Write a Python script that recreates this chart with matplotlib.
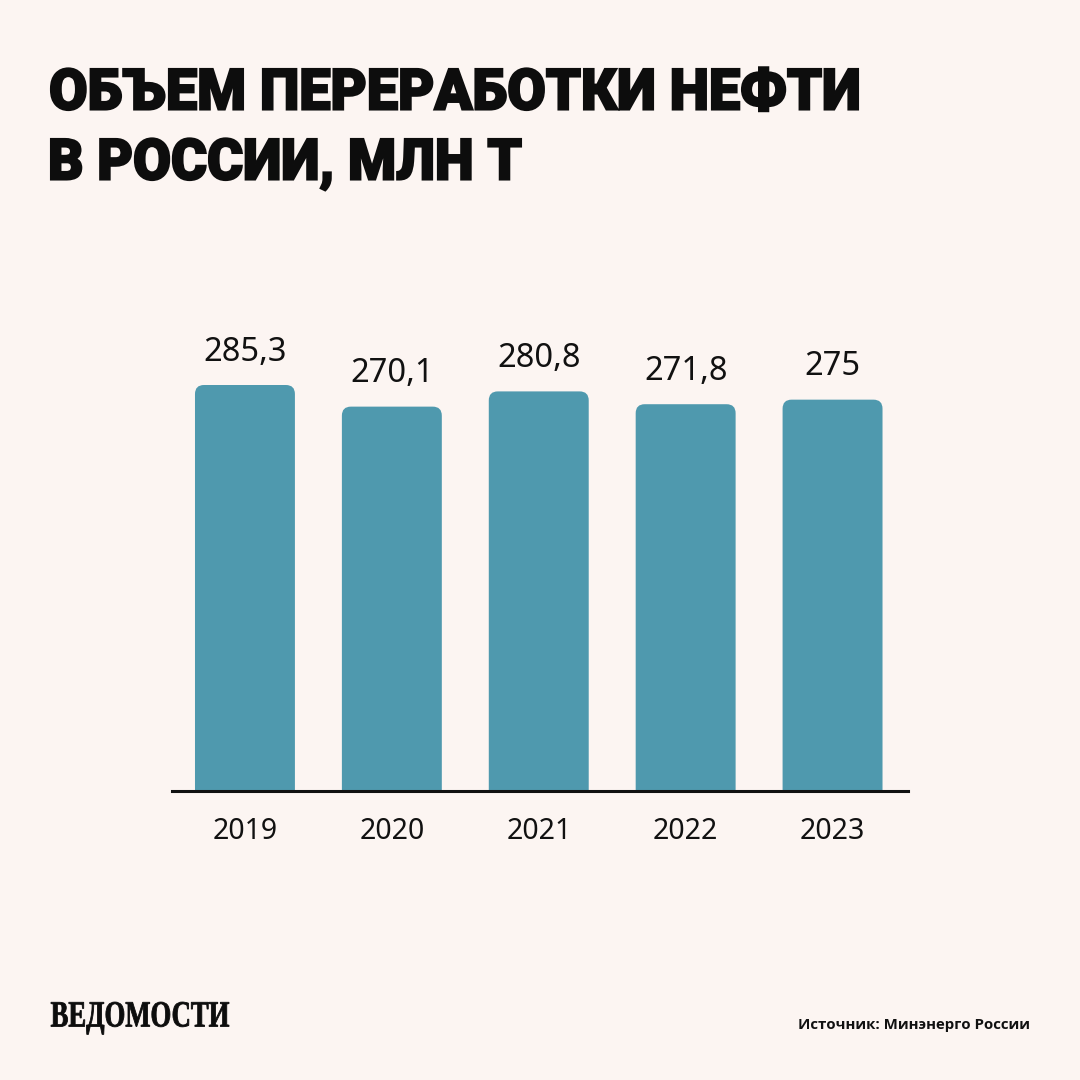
import numpy as np
import matplotlib.pyplot as plt
from matplotlib.patches import FancyBboxPatch, PathPatch
from matplotlib.textpath import TextPath
from matplotlib.font_manager import FontProperties
from matplotlib.transforms import Affine2D

# --- données ---
years = ["2019", "2020", "2021", "2022", "2023"]
values = [285.3, 270.1, 280.8, 271.8, 275.0]
value_labels = ["285,3", "270,1", "280,8", "271,8", "275"]

BG = "#fcf5f2"
BAR = "#4f99ae"
W, H = 1080, 1080
DPI = 100

fig = plt.figure(figsize=(W / DPI, H / DPI), dpi=DPI, facecolor=BG)


def squeezed_text(s, x0, y_base, size, width, family, weight, stroke=0.0):
    """texte compressé horizontalement (pixels, origine en haut)"""
    fp = FontProperties(family=family, weight=weight)
    tp = TextPath((0, 0), s, size=size, prop=fp)
    ext = tp.get_extents()
    tr = Affine2D().translate(-ext.x0, 0).scale(width / ext.width, 1.0)
    tr = tr.translate(x0, H - y_base)
    fig.patches.append(PathPatch(tr.transform_path(tp), facecolor="#0d0d0d",
                                 edgecolor="#0d0d0d" if stroke else "none",
                                 linewidth=stroke, joinstyle="miter",
                                 transform=None))


# axes placed in pixel terms
ax_l, ax_r, ax_b, ax_t = 172, 908, 791, 300
ax = fig.add_axes([ax_l / W, 1 - ax_b / H, (ax_r - ax_l) / W, (ax_b - ax_t) / H])
ax.set_facecolor(BG)

x = np.arange(len(years))
step_px = 147.0
bw = 100 / step_px
ax.set_xlim(-(245 - ax_l) / step_px, len(years) - 1 + (ax_r - 832.5) / step_px)
ymax = (ax_b - ax_t) / (406 / 285.3)
ax.set_ylim(0, ymax)

# rounded tops (bottom corners hidden below the axis)
px_x = step_px
px_y = (ax_b - ax_t) / ymax
r_px = 9
below = 20 / px_y
for xi, v in zip(x, values):
    p = FancyBboxPatch((xi - bw / 2, -below), bw, v + below,
                       boxstyle=f"round,pad=0,rounding_size={r_px / px_x}",
                       mutation_aspect=px_x / px_y,
                       facecolor=BAR, edgecolor="none", zorder=2)
    ax.add_patch(p)

for xi, v, lab in zip(x, values, value_labels):
    ax.annotate(lab, (xi, v), xytext=(0, 17.5), textcoords="offset points",
                ha="center", va="baseline", fontsize=23.5,
                family="Noto Sans", color="#111111")

for s in ["top", "right", "left"]:
    ax.spines[s].set_visible(False)
ax.spines["bottom"].set_linewidth(2.2)
ax.spines["bottom"].set_color("#111111")
ax.spines["bottom"].set_zorder(3)
ax.set_yticks([])
ax.set_xticks(x)
ax.set_xticklabels(years, fontsize=20.5, family="Noto Sans", color="#111111")
ax.tick_params(axis="x", length=0, pad=19)

# заголовок
squeezed_text("ОБЪЕМ ПЕРЕРАБОТКИ НЕФТИ", 51, 109.5, 57, 807, "Roboto", "black", 1.5)
squeezed_text("В РОССИИ, МЛН Т", 51, 179.5, 57, 470, "Roboto", "black", 1.5)

# logo
squeezed_text("ВЕДОМОСТИ", 51, 1026.5, 37, 178, "Liberation Serif", "bold", 0.6)

fig.text(1030 / W, 1 - 1029 / H, "Источник: Минэнерго России", fontsize=10.8,
         family="Open Sans", weight="bold", color="#111111",
         ha="right", va="baseline")

fig.savefig("out.png", dpi=DPI, facecolor=BG)
